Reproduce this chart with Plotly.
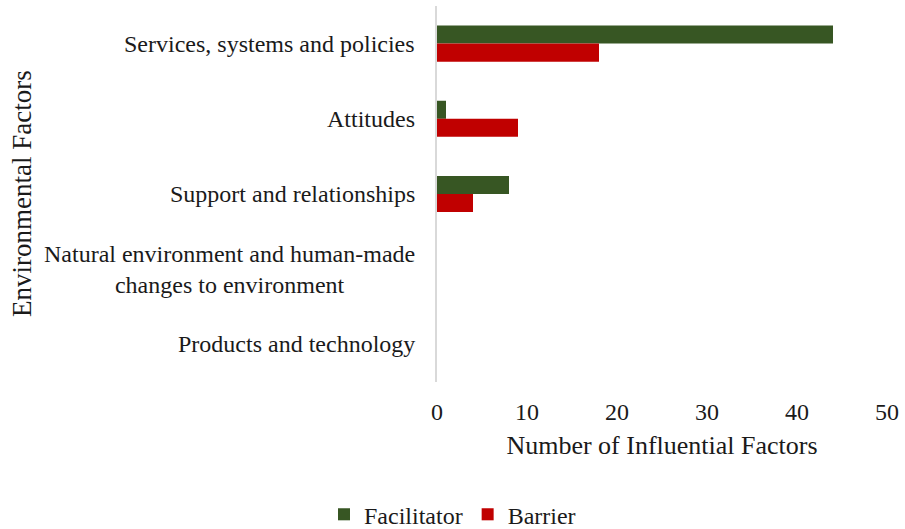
import plotly.graph_objects as go

# Environmental factor categories (top to bottom)
categories = [
    "Services, systems and policies",
    "Attitudes",
    "Support and relationships",
    "Natural environment and human-made<br>changes to environment",
    "Products and technology",
]
facilitator = [44, 1, 8, 0, 0]
barrier = [18, 9, 4, 0, 0]
x_ticks = [0, 10, 20, 30, 40, 50]

FONT = "Liberation Serif, Times New Roman, serif"
TXT = "#1a1a1a"

fig = go.Figure()
fig.add_trace(go.Bar(
    name="Facilitator", y=categories, x=facilitator, orientation="h",
    marker=dict(color="#375623", line=dict(width=0)),
))
fig.add_trace(go.Bar(
    name="Barrier", y=categories, x=barrier, orientation="h",
    marker=dict(color="#C00000", line=dict(width=0)),
))

# Category labels as centred, right-anchored annotations
for cat in categories:
    fig.add_annotation(
        x=0, xref="paper", y=cat, yref="y", text=cat,
        showarrow=False, xanchor="right", yanchor="middle", align="center",
        xshift=-20, font=dict(family=FONT, size=24, color=TXT),
    )

fig.update_layout(
    width=905, height=529,
    margin=dict(l=437, r=14, t=6, b=147),
    paper_bgcolor="white", plot_bgcolor="white",
    barmode="group", bargap=0.52, bargroupgap=0,
    font=dict(family=FONT, size=24, color=TXT),
    showlegend=True,
    legend=dict(
        orientation="h", x=0.5, xref="container", xanchor="center",
        y=0.027, yref="container", yanchor="middle",
        font=dict(family=FONT, size=24, color=TXT),
        itemwidth=30, traceorder="normal",
    ),
    xaxis=dict(
        range=[0, 50], tickvals=x_ticks, showgrid=False, zeroline=False,
        showline=False, ticks="outside", ticklen=8, tickcolor="white",
        tickfont=dict(family=FONT, size=24, color=TXT),
        title=dict(text="Number of Influential Factors", standoff=12,
                   font=dict(family=FONT, size=26, color=TXT)),
        fixedrange=True,
    ),
    yaxis=dict(
        autorange="reversed", showticklabels=False, showgrid=False,
        zeroline=False, showline=True, linecolor="#d9d9d9", linewidth=2,
        fixedrange=True,
    ),
)

# Rotated y-axis title
fig.add_annotation(
    x=0, xref="paper", xshift=-415, xanchor="center",
    y=0.5, yref="paper", yanchor="middle",
    text="Environmental Factors", showarrow=False, textangle=-90,
    font=dict(family=FONT, size=27, color=TXT),
)

fig.write_html("out.html")
